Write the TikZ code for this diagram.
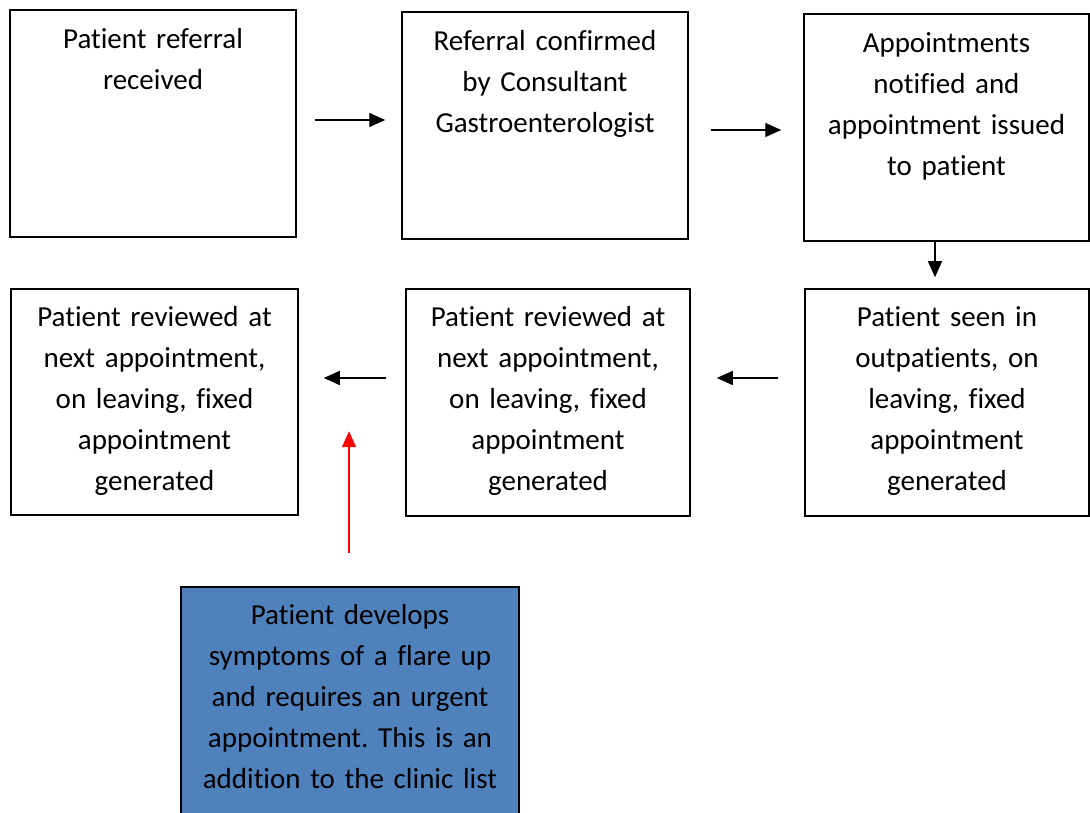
\documentclass[tikz,border=0pt]{standalone}
\usepackage{fontspec}
\setmainfont{Carlito}[Ligatures={NoCommon}]
\frenchspacing
\usetikzlibrary{arrows.meta,calc}
\begin{document}
\begin{tikzpicture}[x=1pt,y=1pt,
  box/.style={draw=black, line width=1.5pt, minimum width=286pt, minimum height=227pt, inner sep=0pt},
  urgentbox/.style={box, fill=urgentblue, minimum width=338pt},
  txt/.style={anchor=base, align=center, text width=280pt, inner sep=0pt,
              font=\fontsize{29}{41}\selectfont},
  flow/.style={line width=1.4pt, -{Triangle[length=16pt,width=14pt]}},
  alert/.style={flow, draw=red, -{Triangle[length=16pt,width=14pt,fill=red]}},
]
\definecolor{urgentblue}{RGB}{79,129,189}
\useasboundingbox (0,0) rectangle (1090,813);

% top row
\node[box] (b1) at (153,689.5) {};
\node[box] (b2) at (545,687.5) {};
\node[box, minimum width=285pt] (b3) at (946.5,685.5) {};
% second row
\node[box, minimum width=287pt, minimum height=226pt] (b4) at (154.5,411) {};
\node[box, minimum width=284pt] (b5) at (548,410.5) {};
\node[box, minimum width=284pt] (b6) at (947,410.5) {};
% urgent addition
\node[urgentbox] (u) at (350,112.5) {};

% box texts
\node[txt] (t1) at ([yshift=-39pt]b1.north) {Patient referral\\received};
\node[txt] (t2) at ([yshift=-39pt]b2.north) {Referral confirmed\\by Consultant\\Gastroenterologist};
\node[txt] (t3) at ([yshift=-39pt]b3.north) {Appointments\\notified and\\appointment issued\\to patient};
\node[txt] (t4) at ([yshift=-38.5pt]b4.north) {Patient reviewed at\\next appointment,\\on leaving, fixed\\appointment\\generated};
\node[txt] (t5) at ([yshift=-38.5pt]b5.north) {Patient reviewed at\\next appointment,\\on leaving, fixed\\appointment\\generated};
\node[txt] (t6) at ([yshift=-38.5pt]b6.north) {Patient seen in\\outpatients, on\\leaving, fixed\\appointment\\generated};
\node[txt, text width=334pt] (tu) at ([yshift=-38pt]u.north) {Patient develops\\symptoms of a flare up\\and requires an urgent\\appointment. This is an\\addition to the clinic list};

% connectors
\draw[flow, shorten <=18pt, shorten >=16pt]
  ([yshift=3.5pt]b1.east) -- ([yshift=3.5pt]b1.east -| b2.west);
\draw[flow, shorten <=22pt, shorten >=22pt]
  ([yshift=-4.5pt]b2.east) -- ([yshift=-4.5pt]b2.east -| b3.west);
\draw[flow, shorten >=11pt]
  ([xshift=-11.5pt]b3.south) -- ([xshift=-11.5pt]b3.south |- b6.north);
\draw[flow, shorten <=26pt, shorten >=26pt]
  ([yshift=24.5pt]b6.west) -- ([yshift=24.5pt]b6.west -| b5.east);
\draw[flow, shorten <=19pt, shorten >=25pt]
  ([yshift=24.5pt]b5.west) -- ([yshift=24.5pt]b5.west -| b4.east);
% the urgent request points into the gap between the two review boxes
\coordinate (slot) at ($($(b4.east)!0.5!(b5.west)$)+(0,-29)$);
\draw[alert, shorten <=33pt]
  ([xshift=-1pt]u.north) -- ([xshift=-1pt]u.north |- slot);
\end{tikzpicture}
\end{document}
